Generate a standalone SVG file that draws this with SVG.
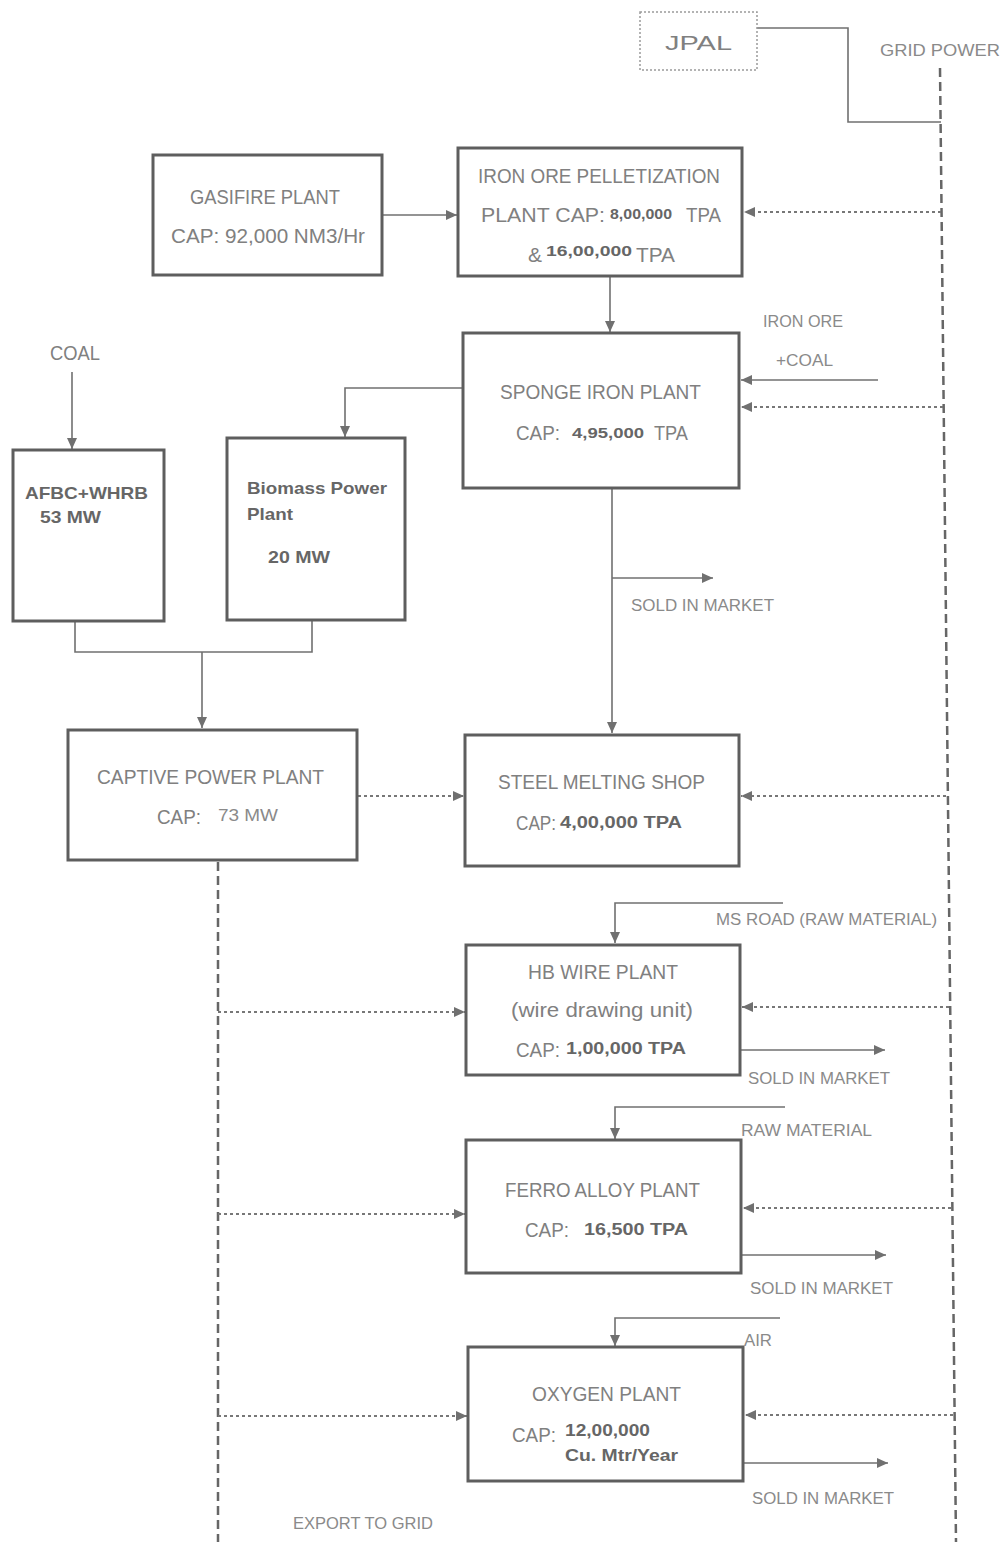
<svg xmlns="http://www.w3.org/2000/svg" width="1005" height="1542" viewBox="0 0 1005 1542">
<defs>
<marker id="ah" markerWidth="12" markerHeight="12" refX="11" refY="6" orient="auto" markerUnits="userSpaceOnUse">
<path d="M0,1 L11,6 L0,11 Z" fill="#707070"/>
</marker>
<style>
.box{fill:#fff;stroke:#5e5e5e;stroke-width:3}
.jp{fill:#fff;stroke:#9a9a9a;stroke-width:1.5;stroke-dasharray:2,2}
.t{font-family:"Liberation Sans",Arial,sans-serif;font-size:21px;fill:#808080}
.b{font-family:"Liberation Sans",Arial,sans-serif;font-size:17px;font-weight:bold;fill:#666}
.s{font-family:"Liberation Sans",Arial,sans-serif;font-size:16px;fill:#8a8a8a}
.ln{fill:none;stroke:#707070;stroke-width:1.6}
.ar{fill:none;stroke:#707070;stroke-width:1.6;marker-end:url(#ah)}
.da{fill:none;stroke:#777;stroke-width:1.8;stroke-dasharray:3,3;marker-end:url(#ah)}
.grid{fill:none;stroke:#666;stroke-width:2.5;stroke-dasharray:9,5}
</style>
</defs>
<rect width="1005" height="1542" fill="#fff"/>

<g id="connectors">
<polyline class="ln" points="757,28 848,28 848,122 941,122"/>
<line class="grid" x1="940" y1="68" x2="956" y2="1542"/>
<line class="ar" x1="382" y1="215" x2="457" y2="215"/>
<line class="da" x1="941" y1="212" x2="744" y2="212"/>
<line class="ar" x1="610" y1="277" x2="610" y2="332"/>
<line class="ar" x1="878" y1="380" x2="741" y2="380"/>
<line class="da" x1="943" y1="407" x2="741" y2="407"/>
<polyline class="ar" points="463,388 345,388 345,437"/>
<line class="ar" x1="72" y1="372" x2="72" y2="449"/>
<polyline class="ln" points="75,622 75,652 312,652 312,621"/>
<line class="ar" x1="202" y1="652" x2="202" y2="728"/>
<line class="da" x1="358" y1="796" x2="464" y2="796"/>
<line class="ar" x1="612" y1="489" x2="612" y2="733"/>
<line class="ar" x1="612" y1="578" x2="713" y2="578"/>
<line class="da" x1="946" y1="796" x2="741" y2="796"/>
<line class="grid" x1="218" y1="862" x2="218" y2="1542"/>
<line class="da" x1="218" y1="1012" x2="465" y2="1012"/>
<line class="da" x1="218" y1="1214" x2="465" y2="1214"/>
<line class="da" x1="218" y1="1416" x2="467" y2="1416"/>
<polyline class="ar" points="783,903 615,903 615,943"/>
<line class="da" x1="949" y1="1007" x2="742" y2="1007"/>
<line class="ar" x1="741" y1="1050" x2="885" y2="1050"/>
<polyline class="ar" points="785,1107 615,1107 615,1139"/>
<line class="da" x1="951" y1="1208" x2="743" y2="1208"/>
<line class="ar" x1="742" y1="1255" x2="886" y2="1255"/>
<polyline class="ar" points="780,1318 615,1318 615,1346"/>
<line class="da" x1="953" y1="1415" x2="745" y2="1415"/>
<line class="ar" x1="744" y1="1463" x2="888" y2="1463"/>
</g>

<g id="jpal">
<rect class="jp" x="640" y="12" width="117" height="58"/>
<text class="t" x="665" y="50" textLength="67" lengthAdjust="spacingAndGlyphs">JPAL</text>
</g>
<g id="grid-power">
<text class="s" x="880" y="56" textLength="120" lengthAdjust="spacingAndGlyphs">GRID POWER</text>
</g>

<g id="gasifire">
<rect class="box" x="153" y="155" width="229" height="120"/>
<text class="t" x="190" y="204" textLength="150" lengthAdjust="spacingAndGlyphs">GASIFIRE PLANT</text>
<text class="t" x="171" y="243" textLength="194" lengthAdjust="spacingAndGlyphs">CAP: 92,000 NM3/Hr</text>
</g>

<g id="pelletization">
<rect class="box" x="458" y="148" width="284" height="128"/>
<text class="t" x="478" y="183" textLength="242" lengthAdjust="spacingAndGlyphs">IRON ORE PELLETIZATION</text>
<text class="t" x="481" y="222" textLength="124" lengthAdjust="spacingAndGlyphs">PLANT CAP:</text>
<text class="b" x="610" y="219" textLength="62" lengthAdjust="spacingAndGlyphs" style="font-size:15px">8,00,000</text>
<text class="t" x="686" y="222" textLength="35" lengthAdjust="spacingAndGlyphs">TPA</text>
<text class="t" x="528" y="262" textLength="14" lengthAdjust="spacingAndGlyphs">&amp;</text>
<text class="b" x="546" y="256" textLength="86" lengthAdjust="spacingAndGlyphs" style="font-size:15px">16,00,000</text>
<text class="t" x="636" y="262" textLength="39" lengthAdjust="spacingAndGlyphs">TPA</text>
</g>

<g id="sponge">
<rect class="box" x="463" y="333" width="276" height="155"/>
<text class="t" x="500" y="399" textLength="201" lengthAdjust="spacingAndGlyphs">SPONGE IRON PLANT</text>
<text class="t" x="516" y="440" textLength="44" lengthAdjust="spacingAndGlyphs">CAP:</text>
<text class="b" x="572" y="438" textLength="72" lengthAdjust="spacingAndGlyphs" style="font-size:15px">4,95,000</text>
<text class="t" x="654" y="440" textLength="34" lengthAdjust="spacingAndGlyphs">TPA</text>
</g>
<g id="iron-ore-coal">
<text class="s" x="763" y="327" textLength="80" lengthAdjust="spacingAndGlyphs">IRON ORE</text>
<text class="s" x="776" y="366" textLength="57" lengthAdjust="spacingAndGlyphs">+COAL</text>
</g>
<g id="sold-sponge">
<text class="s" x="631" y="611" textLength="143" lengthAdjust="spacingAndGlyphs">SOLD IN MARKET</text>
</g>

<g id="coal">
<text class="t" x="50" y="360" textLength="50" lengthAdjust="spacingAndGlyphs">COAL</text>
</g>
<g id="afbc">
<rect class="box" x="13" y="450" width="151" height="171"/>
<text class="b" x="25" y="499" textLength="123" lengthAdjust="spacingAndGlyphs">AFBC+WHRB</text>
<text class="b" x="40" y="523" textLength="61" lengthAdjust="spacingAndGlyphs">53 MW</text>
</g>
<g id="biomass">
<rect class="box" x="227" y="438" width="178" height="182"/>
<text class="b" x="247" y="494" textLength="140" lengthAdjust="spacingAndGlyphs">Biomass Power</text>
<text class="b" x="247" y="520" textLength="46" lengthAdjust="spacingAndGlyphs">Plant</text>
<text class="b" x="268" y="563" textLength="62" lengthAdjust="spacingAndGlyphs">20 MW</text>
</g>

<g id="captive">
<rect class="box" x="68" y="730" width="289" height="130"/>
<text class="t" x="97" y="784" textLength="227" lengthAdjust="spacingAndGlyphs">CAPTIVE POWER PLANT</text>
<text class="t" x="157" y="824" textLength="44" lengthAdjust="spacingAndGlyphs">CAP:</text>
<text class="s" x="218" y="821" textLength="60" lengthAdjust="spacingAndGlyphs">73 MW</text>
</g>

<g id="sms">
<rect class="box" x="465" y="735" width="274" height="131"/>
<text class="t" x="498" y="789" textLength="207" lengthAdjust="spacingAndGlyphs">STEEL MELTING SHOP</text>
<text class="t" x="516" y="830" textLength="40" lengthAdjust="spacingAndGlyphs">CAP:</text>
<text class="b" x="560" y="828" textLength="122" lengthAdjust="spacingAndGlyphs" style="font-size:16px">4,00,000 TPA</text>
</g>

<g id="hb-wire">
<rect class="box" x="466" y="945" width="274" height="130"/>
<text class="t" x="528" y="979" textLength="150" lengthAdjust="spacingAndGlyphs">HB WIRE PLANT</text>
<text class="t" x="511" y="1017" textLength="182" lengthAdjust="spacingAndGlyphs">(wire drawing unit)</text>
<text class="t" x="516" y="1057" textLength="44" lengthAdjust="spacingAndGlyphs">CAP:</text>
<text class="b" x="566" y="1054" textLength="120" lengthAdjust="spacingAndGlyphs" style="font-size:16px">1,00,000 TPA</text>
</g>
<g id="ms-road">
<text class="s" x="716" y="925" textLength="221" lengthAdjust="spacingAndGlyphs">MS ROAD (RAW MATERIAL)</text>
</g>
<g id="sold-hb">
<text class="s" x="748" y="1084" textLength="142" lengthAdjust="spacingAndGlyphs">SOLD IN MARKET</text>
</g>

<g id="ferro">
<rect class="box" x="466" y="1140" width="275" height="133"/>
<text class="t" x="505" y="1197" textLength="195" lengthAdjust="spacingAndGlyphs">FERRO ALLOY PLANT</text>
<text class="t" x="525" y="1237" textLength="44" lengthAdjust="spacingAndGlyphs">CAP:</text>
<text class="b" x="584" y="1235" textLength="104" lengthAdjust="spacingAndGlyphs" style="font-size:16px">16,500 TPA</text>
</g>
<g id="raw-material">
<text class="s" x="741" y="1136" textLength="131" lengthAdjust="spacingAndGlyphs">RAW MATERIAL</text>
</g>
<g id="sold-ferro">
<text class="s" x="750" y="1294" textLength="143" lengthAdjust="spacingAndGlyphs">SOLD IN MARKET</text>
</g>

<g id="oxygen">
<rect class="box" x="468" y="1347" width="275" height="134"/>
<text class="t" x="532" y="1401" textLength="149" lengthAdjust="spacingAndGlyphs">OXYGEN PLANT</text>
<text class="t" x="512" y="1442" textLength="44" lengthAdjust="spacingAndGlyphs">CAP:</text>
<text class="b" x="565" y="1436" textLength="85" lengthAdjust="spacingAndGlyphs" style="font-size:16px">12,00,000</text>
<text class="b" x="565" y="1461" textLength="113" lengthAdjust="spacingAndGlyphs" style="font-size:16px">Cu. Mtr/Year</text>
</g>
<g id="air">
<text class="s" x="744" y="1346" textLength="28" lengthAdjust="spacingAndGlyphs">AIR</text>
</g>
<g id="sold-oxygen">
<text class="s" x="752" y="1504" textLength="142" lengthAdjust="spacingAndGlyphs">SOLD IN MARKET</text>
</g>
<g id="export-to-grid">
<text class="s" x="293" y="1529" textLength="140" lengthAdjust="spacingAndGlyphs">EXPORT TO GRID</text>
</g>
</svg>
